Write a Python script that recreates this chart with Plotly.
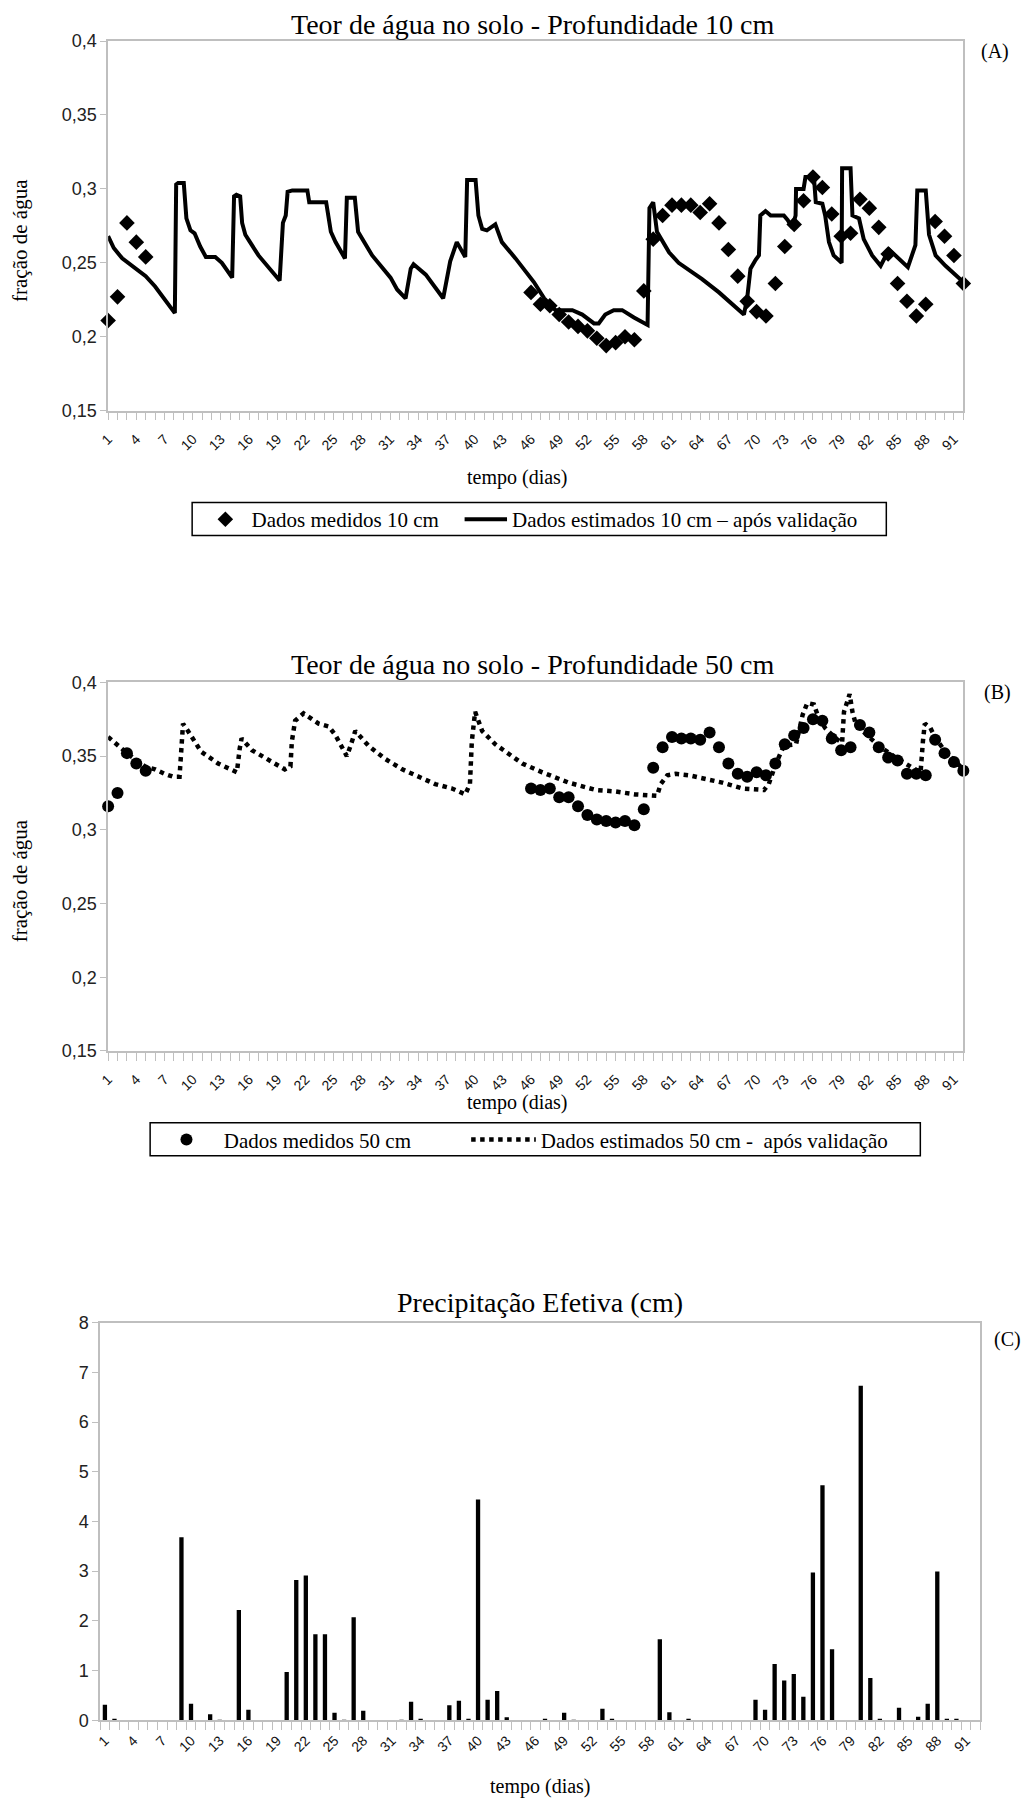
import plotly.graph_objects as go

W, H = 1025, 1803
# Measured in earlier renders: a figure pixel f lands in the photograph at about
# 7.9 + 0.99 * f. Target positions (read from the reference) are mapped back through it.
S, O = 0.99, 7.9

# ---------------- data ----------------
dias = list(range(1, 93))
rotulos_dias = list(range(1, 92, 3))

dias_medidos = [1, 2, 3, 4, 5] + list(range(46, 93))

medidos_10 = [0.211, 0.227, 0.277, 0.264, 0.254,
              0.230, 0.222, 0.221, 0.215, 0.210, 0.207, 0.204, 0.199, 0.194, 0.196,
              0.200, 0.198, 0.231, 0.266, 0.282, 0.289, 0.289, 0.289, 0.284, 0.290,
              0.277, 0.259, 0.241, 0.224, 0.217, 0.214, 0.236, 0.261, 0.276, 0.292,
              0.308, 0.301, 0.283, 0.268, 0.270, 0.293, 0.287, 0.274, 0.256, 0.236,
              0.224, 0.214, 0.222, 0.278, 0.268, 0.255, 0.236]

medidos_50 = [0.316, 0.325, 0.352, 0.345, 0.340,
              0.328, 0.327, 0.328, 0.322, 0.322, 0.316, 0.310, 0.307, 0.306, 0.305,
              0.306, 0.303, 0.314, 0.342, 0.356, 0.363, 0.362, 0.362, 0.361, 0.366,
              0.356, 0.345, 0.338, 0.336, 0.339, 0.337, 0.345, 0.358, 0.364, 0.369,
              0.375, 0.374, 0.362, 0.354, 0.356, 0.371, 0.366, 0.356, 0.349, 0.347,
              0.338, 0.338, 0.337, 0.361, 0.352, 0.346, 0.340]

tempo_est_10 = [1.0, 1.6, 2.5, 3.9, 5.0, 6.0, 7.1, 8.1, 8.24, 8.45, 9.05, 9.33, 9.76, 10.2,
                10.8, 11.4, 12.4, 13.1, 14.2, 14.4, 14.65, 15.05, 15.26, 15.6, 16.1, 17.0,
                19.25, 19.6, 19.9, 20.1, 20.6, 22.2, 22.4, 24.2, 24.7, 25.2, 26.2, 26.4,
                26.8, 27.25, 27.6, 28.2, 29.1, 31.05, 31.75, 32.65, 33.2, 33.5, 34.8,
                36.65, 37.4, 38.1, 39.0, 39.2, 40.1, 40.4, 40.8, 41.3, 42.05, 42.2, 42.9,
                44.35, 46.3, 47.4, 48.6, 49.3, 50.4, 51.45, 52.7, 53.2, 53.9, 54.8, 55.7,
                56.95, 58.4, 58.6, 59.0, 59.4, 60.7, 61.7, 64.2, 66.0, 67.8, 68.65, 69.0,
                69.35, 69.9, 70.25, 70.4, 70.95, 71.5, 72.9, 73.3, 73.8, 74.15, 74.2, 75.0,
                75.2, 76.1, 76.3, 77.0, 77.3, 77.7, 78.2, 79.05, 79.1, 80.0, 80.2, 80.9,
                81.4, 82.3, 83.2, 84.1, 85.0, 86.1, 86.9, 87.1, 88.0, 88.35, 89.05, 90.1,
                92.0]
estimados_10 = [0.268, 0.260, 0.253, 0.246, 0.241, 0.234, 0.224, 0.216, 0.303, 0.304, 0.304,
                0.280, 0.272, 0.270, 0.261, 0.254, 0.254, 0.250, 0.240, 0.295, 0.296, 0.295,
                0.277, 0.269, 0.264, 0.255, 0.238, 0.277, 0.282, 0.298, 0.299, 0.299, 0.291,
                0.291, 0.271, 0.264, 0.253, 0.294, 0.294, 0.294, 0.271, 0.265, 0.255, 0.240,
                0.232, 0.226, 0.246, 0.249, 0.242, 0.226, 0.251, 0.264, 0.254, 0.306, 0.306,
                0.282, 0.273, 0.272, 0.276, 0.276, 0.264, 0.253, 0.237, 0.226, 0.218, 0.218,
                0.218, 0.215, 0.209, 0.209, 0.215, 0.218, 0.218, 0.213, 0.208, 0.287, 0.291,
                0.271, 0.257, 0.250, 0.239, 0.230, 0.220, 0.215, 0.226, 0.246, 0.252, 0.255,
                0.282, 0.285, 0.282, 0.282, 0.279, 0.274, 0.282, 0.300, 0.300, 0.308, 0.308,
                0.291, 0.290, 0.282, 0.264, 0.255, 0.250, 0.314, 0.314, 0.282, 0.280, 0.266,
                0.255, 0.248, 0.259, 0.254, 0.247, 0.262, 0.299, 0.299, 0.269, 0.255, 0.248,
                0.237]

tempo_est_50 = [1.0, 3.0, 4.9, 6.0, 7.0, 7.9, 8.6, 8.8, 8.97, 9.5, 10.9, 12.7, 14.7, 15.0,
                15.2, 16.3, 18.0, 19.8, 20.4, 20.55, 20.9, 21.8, 23.4, 24.5, 25.2, 26.4,
                26.8, 27.3, 28.7, 30.5, 32.3, 34.0, 35.8, 37.6, 39.0, 39.5, 39.7, 40.05,
                40.4, 40.8, 42.2, 45.06, 47.2, 50.0, 52.9, 55.0, 57.1, 59.4, 59.8, 60.5,
                61.4, 62.8, 64.9, 66.35, 68.5, 70.8, 71.3, 72.0, 72.9, 74.2, 74.9, 75.4,
                76.1, 76.6, 77.3, 78.4, 79.1, 79.3, 79.9, 80.2, 80.5, 81.6, 83.0, 84.8,
                86.6, 87.45, 87.7, 87.9, 88.5, 89.05, 90.1, 92.0]
estimados_50 = [0.363, 0.352, 0.343, 0.341, 0.338, 0.336, 0.336, 0.353, 0.372, 0.367, 0.353,
                0.345, 0.339, 0.355, 0.362, 0.354, 0.348, 0.341, 0.343, 0.360, 0.374, 0.379,
                0.372, 0.370, 0.364, 0.350, 0.357, 0.367, 0.357, 0.348, 0.341, 0.336, 0.331,
                0.328, 0.324, 0.331, 0.360, 0.380, 0.374, 0.367, 0.358, 0.345, 0.339, 0.332,
                0.327, 0.326, 0.324, 0.323, 0.331, 0.337, 0.338, 0.337, 0.334, 0.332, 0.328,
                0.327, 0.331, 0.344, 0.357, 0.358, 0.378, 0.386, 0.385, 0.376, 0.369, 0.362,
                0.359, 0.380, 0.392, 0.380, 0.373, 0.365, 0.357, 0.349, 0.342, 0.339, 0.360,
                0.372, 0.369, 0.362, 0.353, 0.341]

precipitacao = [0.31, 0.03, 0, 0, 0, 0, 0, 0, 3.68, 0.33,
                0, 0.12, 0.01, 0, 2.22, 0.21, 0, 0, 0, 0.97,
                2.82, 2.91, 1.73, 1.73, 0.15, 0.01, 2.07, 0.19, 0, 0,
                0, 0.01, 0.37, 0.03, 0, 0, 0.30, 0.39, 0.03, 4.44,
                0.41, 0.59, 0.06, 0, 0, 0, 0.03, 0, 0.15, 0.01,
                0, 0, 0.23, 0.02, 0, 0, 0, 0, 1.63, 0.16,
                0, 0.03, 0, 0, 0, 0, 0, 0, 0.41, 0.21,
                1.13, 0.80, 0.93, 0.47, 2.97, 4.73, 1.43, 0, 0, 6.73,
                0.85, 0.03, 0, 0.25, 0, 0.07, 0.33, 2.99, 0.02, 0.02,
                0, 0]

ticks_agua = [0.15, 0.2, 0.25, 0.3, 0.35, 0.4]
rotulos_agua = ["0,15", "0,2", "0,25", "0,3", "0,35", "0,4"]
ticks_prec = [0, 1, 2, 3, 4, 5, 6, 7, 8]

# ---------------- helpers (target pixel -> paper fraction) ----------------
def fx(x):
    return (x - O) / S

def fy(y):
    return (y - O) / S

def px(x):
    return fx(x) / W

def py(y):
    return 1 - fy(y) / H

def sz(v):
    return v / S

SERIF = "Liberation Serif"
SANS = "Liberation Sans"
GRAY = "#bfbfbf"

fig = go.Figure()

# Chart A
fig.add_trace(go.Scatter(x=dias_medidos, y=medidos_10, mode="markers",
                         marker=dict(symbol="diamond", size=12, color="black"),
                         name="Dados medidos 10 cm", xaxis="x", yaxis="y",
                         legend="legend", legendwidth=sz(201), cliponaxis=False))
fig.add_trace(go.Scatter(x=tempo_est_10, y=estimados_10, mode="lines",
                         line=dict(color="black", width=4),
                         name="Dados estimados 10 cm \u2013 após validação", xaxis="x", yaxis="y",
                         legend="legend", cliponaxis=False))
# Chart B
fig.add_trace(go.Scatter(x=dias_medidos, y=medidos_50, mode="markers",
                         marker=dict(symbol="circle", size=12, color="black"),
                         name="Dados medidos 50 cm", xaxis="x2", yaxis="y2",
                         legend="legend2", legendwidth=sz(235), cliponaxis=False))
fig.add_trace(go.Scatter(x=tempo_est_50, y=estimados_50, mode="lines",
                         line=dict(color="black", width=4.5, dash="dot"),
                         name="Dados estimados 50 cm -\u00a0 após validação", xaxis="x2", yaxis="y2",
                         legend="legend2", cliponaxis=False))
# Chart C
fig.add_trace(go.Bar(x=dias, y=precipitacao, marker=dict(color="black", line=dict(width=0)),
                     xaxis="x3", yaxis="y3", showlegend=False))

def xaxis_cfg(domain, anchor, bars=False):
    cfg = dict(domain=domain, anchor=anchor, showline=True, mirror=True, linecolor=GRAY,
               linewidth=1.5, showgrid=False, zeroline=False,
               tickmode="array", tickvals=rotulos_dias, ticktext=[str(v) for v in rotulos_dias],
               tickangle=-45, tickfont=dict(family=SANS, size=14, color="#111"),
               tickcolor=GRAY, ticklen=8, tickwidth=1, ticklabelstandoff=5)
    if bars:
        cfg.update(range=[0.5, 92.5], ticks="",
                   minor=dict(tickmode="array", tickvals=[d - 0.5 for d in dias] + [92.5],
                              ticks="outside", ticklen=8, tickcolor=GRAY, tickwidth=1))
    else:
        cfg.update(range=[1, 92], ticks="outside",
                   minor=dict(tickmode="array", tickvals=dias, ticks="outside",
                              ticklen=8, tickcolor=GRAY, tickwidth=1))
    return cfg

def yaxis_cfg(domain, anchor, rng, tv, tt):
    return dict(domain=domain, anchor=anchor, range=rng, showline=True, mirror=True,
                linecolor=GRAY, linewidth=1.5, showgrid=False, zeroline=False,
                tickmode="array", tickvals=tv, ticktext=tt, ticks="outside", ticklen=6,
                tickcolor=GRAY, tickfont=dict(family=SANS, size=18, color="#222"))

ann = []
def text(x, y, s, size, angle=0, xanchor="center"):
    ann.append(dict(x=px(x), y=py(y), xref="paper", yref="paper", text=s, showarrow=False,
                    font=dict(family=SERIF, size=size, color="black"), textangle=angle,
                    xanchor=xanchor, yanchor="middle"))

# titles and labels (target pixel positions)
text(530, 22, "Teor de água no solo - Profundidade 10 cm", 28)
text(530, 663, "Teor de água no solo - Profundidade 50 cm", 28)
text(538, 1302, "Precipitação Efetiva (cm)", 28)
text(993, 49, "(A)", 20)
text(995, 691, "(B)", 20)
text(1005, 1339, "(C)", 20)
text(18, 239, "fração de água", 21, angle=-90)
text(18, 880, "fração de água", 21, angle=-90)
text(515, 476, "tempo (dias)", 20)
text(515, 1102, "tempo (dias)", 20)
text(538, 1786, "tempo (dias)", 20)

# legend frames
shapes = [
    dict(type="rect", xref="paper", yref="paper", x0=px(190), x1=px(884), y0=py(534), y1=py(501),
         line=dict(color="black", width=1.5), fillcolor="white", layer="below"),
    dict(type="rect", xref="paper", yref="paper", x0=px(148), x1=px(918), y0=py(1155), y1=py(1122),
         line=dict(color="black", width=1.5), fillcolor="white", layer="below"),
]

legend_common = dict(orientation="h", xanchor="left", yanchor="middle", borderwidth=0,
                     bgcolor="rgba(0,0,0,0)",
                     font=dict(family=SERIF, size=21, color="black"), traceorder="normal")

fig.update_layout(
    width=W, height=H, autosize=False,
    margin=dict(l=0, r=0, t=0, b=0),
    paper_bgcolor="white", plot_bgcolor="white",
    bargap=0.55,
    xaxis=xaxis_cfg([px(106), px(961)], "y"),
    yaxis=yaxis_cfg([py(409), py(39)], "x", [0.15, 0.4], ticks_agua, rotulos_agua),
    xaxis2=xaxis_cfg([px(106), px(961)], "y2"),
    yaxis2=yaxis_cfg([py(1050), py(681)], "x2", [0.15, 0.4], ticks_agua, rotulos_agua),
    xaxis3=xaxis_cfg([px(98), px(978)], "y3", bars=True),
    yaxis3=yaxis_cfg([py(1720), py(1322)], "x3", [0, 8], ticks_prec, [str(v) for v in ticks_prec]),
    legend=dict(x=px(197), y=py(518), itemwidth=sz(42), **legend_common),
    legend2=dict(x=px(147), y=py(1139), itemwidth=sz(64), **legend_common),
    annotations=ann,
    shapes=shapes,
)

fig.write_html("out.html")
